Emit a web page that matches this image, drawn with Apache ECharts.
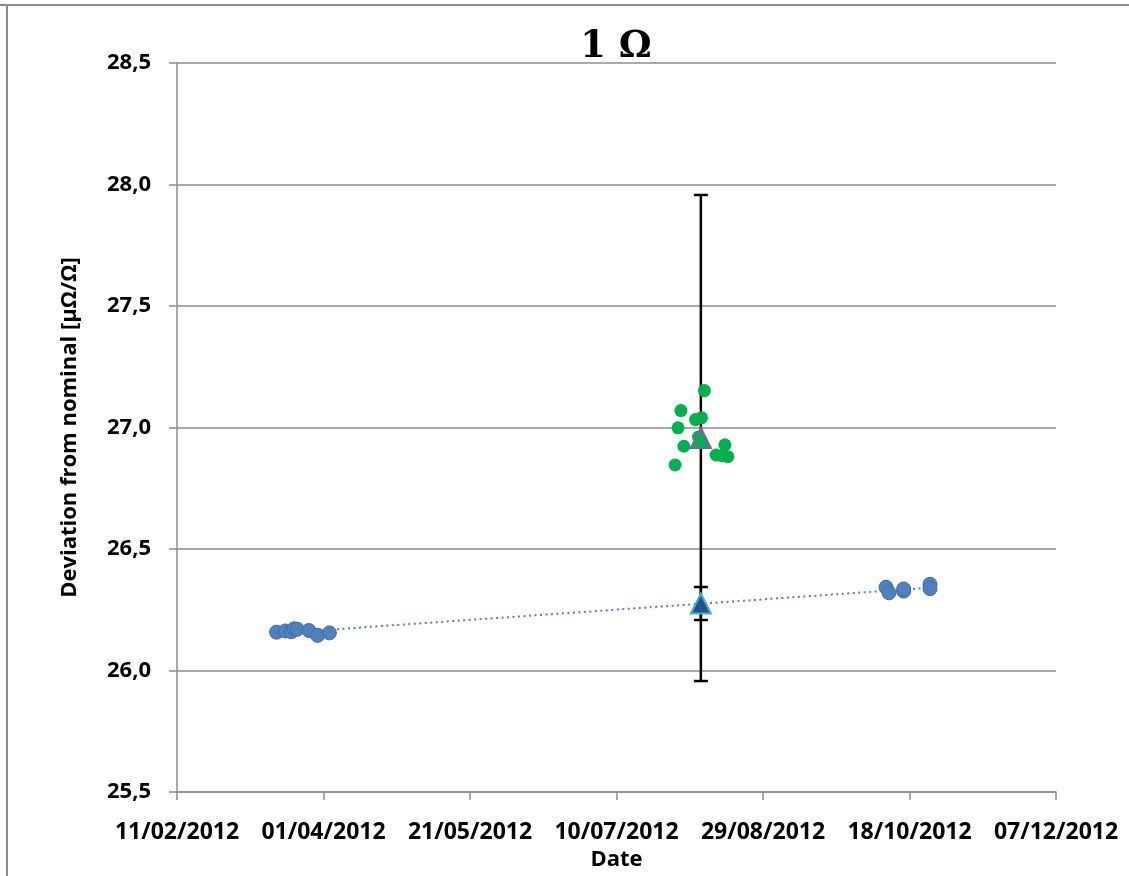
<!DOCTYPE html>
<html><head><meta charset="utf-8">
<script src="https://cdn.jsdelivr.net/npm/echarts@6/dist/echarts.min.js"></script>
<style>html,body{margin:0;padding:0;background:#fff;overflow:hidden}#c{width:1129px;height:876px}</style>
</head><body><div id="c"></div>
<script>
// ---- data ----
const startDate = '2012-02-11';
const xTickLabels = ['11/02/2012','01/04/2012','21/05/2012','10/07/2012','29/08/2012','18/10/2012','07/12/2012'];
const yTickLabels = ['25,5','26,0','26,5','27,0','27,5','28,0','28,5'];

const blueDates  = ['2012-03-16','2012-03-19','2012-03-21','2012-03-22','2012-03-23','2012-03-27','2012-03-30','2012-04-03',
                    '2012-10-10','2012-10-11','2012-10-16','2012-10-16','2012-10-25','2012-10-25'];
const blueValues = [26.158,26.163,26.160,26.172,26.170,26.165,26.145,26.155,
                    26.343,26.320,26.327,26.336,26.355,26.337];

const greenDates  = ['2012-07-30','2012-07-31','2012-08-01','2012-08-02','2012-08-06','2012-08-07',
                     '2012-08-08','2012-08-09','2012-08-13','2012-08-15','2012-08-16','2012-08-17'];
const greenValues = [26.846,26.999,27.070,26.923,27.033,26.961,27.040,27.152,26.887,26.884,26.929,26.880];

const trendDates  = ['2012-03-16','2012-10-25'];
const trendValues = [26.153,26.341];

const meanDates       = ['2012-08-07T19:00','2012-08-07T19:00'];
const meanValues      = [26.276,26.957];   // [blue mean, green mean]
const meanErrors      = [0.068,1.0];

// ---- helpers ----
function toDay(s){
  const parts = s.split('T');
  const ymd = parts[0].split('-').map(Number);
  let ms = Date.UTC(ymd[0], ymd[1]-1, ymd[2]);
  if (parts[1]) { const hm = parts[1].split(':').map(Number); ms += (hm[0]*60+hm[1])*60000; }
  const sd = startDate.split('-').map(Number);
  return (ms - Date.UTC(sd[0], sd[1]-1, sd[2]))/86400000;
}
const pair = (ds, vs) => ds.map((d,i)=>[toDay(d), vs[i]]);

const FONT = 'Open Sans';
const chart = echarts.init(document.getElementById('c'), null, {renderer:'canvas'});
chart.setOption({
  animation:false,
  backgroundColor:'#fff',
  grid:{left:177,right:73,top:63,bottom:78,containLabel:false},
  graphic:[
    {type:'line',shape:{x1:0,y1:5,x2:1129,y2:5},style:{stroke:'#8c8c8c',lineWidth:2},z:0,silent:true},
    {type:'line',shape:{x1:7,y1:4,x2:7,y2:876},style:{stroke:'#8c8c8c',lineWidth:2},z:0,silent:true},
    {type:'text',x:616,y:47,z:100,style:{text:'1 \u03A9',font:'bold 37px "DejaVu Serif"',fill:'#000',textAlign:'center',textVerticalAlign:'middle'}}
  ],
  xAxis:{
    type:'value',min:0,max:300,interval:50,
    name:'Date',nameLocation:'middle',nameGap:50,
    nameTextStyle:{fontFamily:FONT,fontWeight:'bold',fontSize:22,color:'#000'},
    axisLine:{show:true,onZero:false,lineStyle:{color:'#8c8c8c',width:1.5}},
    axisTick:{show:true,inside:false,length:8,lineStyle:{color:'#8c8c8c',width:1.5}},
    splitLine:{show:false},
    axisLabel:{margin:29,fontFamily:FONT,fontWeight:'bold',fontSize:23,color:'#000',
      formatter:v=>xTickLabels[Math.round(v/50)] || ''}
  },
  yAxis:{
    type:'value',min:25.5,max:28.5,interval:0.5,
    name:'Deviation from nominal [\u00B5\u03A9/\u03A9]',nameLocation:'middle',nameRotate:90,nameGap:96,
    nameTextStyle:{fontFamily:FONT,fontWeight:'bold',fontSize:22,color:'#000'},
    axisLine:{show:true,lineStyle:{color:'#8c8c8c',width:1.5}},
    axisTick:{show:true,inside:false,length:8,lineStyle:{color:'#8c8c8c',width:1.5}},
    splitLine:{show:true,lineStyle:{color:'#8c8c8c',width:1.5}},
    axisLabel:{margin:26,fontFamily:FONT,fontWeight:'bold',fontSize:22,color:'#000',
      formatter:v=>yTickLabels[Math.round((v-25.5)/0.5)] || ''}
  },
  series:[
    {
      type:'custom',z:2,
      data:meanDates.map((d,i)=>[toDay(d), meanValues[i]-meanErrors[i], meanValues[i]+meanErrors[i]]),
      renderItem:function(params, api){
        const lo = api.coord([api.value(0), api.value(1)]);
        const hi = api.coord([api.value(0), api.value(2)]);
        const w = 7;
        const st = {stroke:'#000',lineWidth:2.5};
        return {type:'group',children:[
          {type:'line',shape:{x1:lo[0],y1:lo[1],x2:hi[0],y2:hi[1]},style:st},
          {type:'line',shape:{x1:lo[0]-w,y1:lo[1],x2:lo[0]+w,y2:lo[1]},style:st},
          {type:'line',shape:{x1:hi[0]-w,y1:hi[1],x2:hi[0]+w,y2:hi[1]},style:st}
        ]};
      },
      encode:{x:0,y:[1,2]}
    },
    {
      type:'line',z:3,data:pair(trendDates,trendValues),showSymbol:false,symbol:'none',
      lineStyle:{color:'#4F81BD',width:2,type:[2,3.5]}
    },
    {
      type:'scatter',z:4,data:pair(blueDates,blueValues),symbol:'circle',symbolSize:14,
      itemStyle:{color:'#4F81BD',borderColor:'#3D6DA6',borderWidth:1,opacity:1}
    },
    {
      type:'scatter',z:5,data:pair(greenDates,greenValues),symbol:'circle',symbolSize:13,
      itemStyle:{color:'#00B050',opacity:1}
    },
    {
      type:'scatter',z:6,data:[[toDay(meanDates[0]),meanValues[0]]],symbol:'triangle',symbolSize:20,
      itemStyle:{color:'#23548F',borderColor:'#4BACC6',borderWidth:2,opacity:1}
    },
    {
      type:'scatter',z:6,data:[[toDay(meanDates[1]),meanValues[1]]],symbol:'triangle',symbolSize:20,
      itemStyle:{color:'#00B050',borderColor:'#8064A2',borderWidth:2,opacity:1}
    }
  ]
});
</script></body></html>
